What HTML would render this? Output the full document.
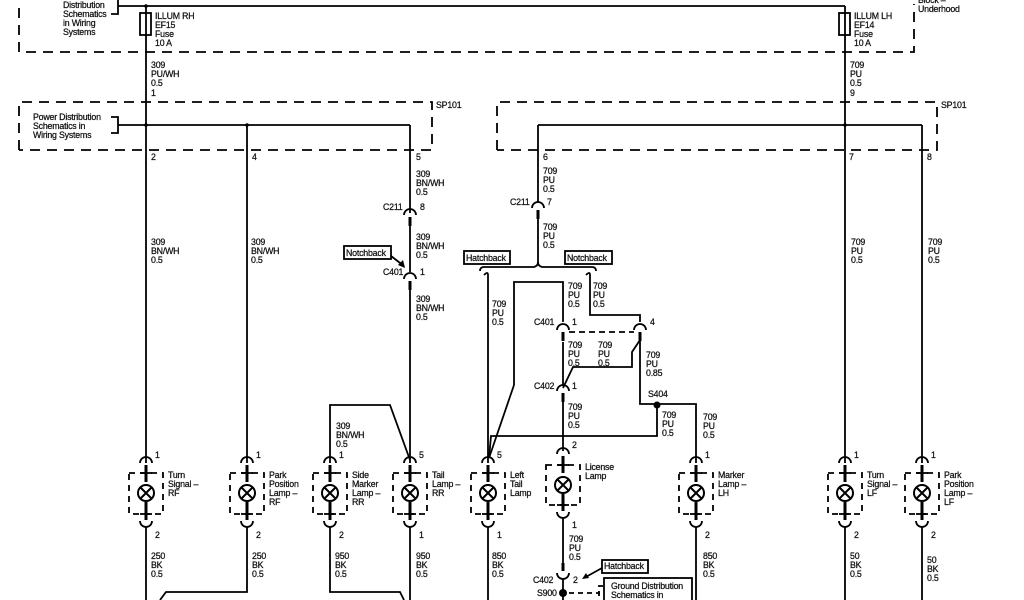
<!DOCTYPE html>
<html><head><meta charset="utf-8"><style>
html,body{margin:0;padding:0;background:#fff;}
svg{display:block;}
text{font-family:"Liberation Sans",sans-serif;font-size:8.8px;fill:#111;stroke:#111;stroke-width:0.25;letter-spacing:-0.2px;}
</style></head><body>
<svg width="1024" height="600" viewBox="0 0 1024 600" xmlns="http://www.w3.org/2000/svg">
<defs>
<g id="lamp">
 <path d="M-6,463 a6,6 0 0 1 12,0" fill="none" stroke="#000" stroke-width="1.8"/>
 <line x1="0" y1="465" x2="0" y2="482" stroke="#000" stroke-width="3"/>
 <line x1="-6" y1="473" x2="6" y2="473" stroke="#000" stroke-width="1.8"/>
 <rect x="-17" y="473" width="34" height="41" fill="none" stroke="#000" stroke-width="1.8" stroke-dasharray="6,5"/>
 <circle cx="0" cy="493" r="8" fill="#fff" stroke="#000" stroke-width="2"/>
 <path d="M-5.5,487.5 L5.5,498.5 M5.5,487.5 L-5.5,498.5" stroke="#000" stroke-width="2"/>
 <line x1="0" y1="502" x2="0" y2="520" stroke="#000" stroke-width="3"/>
 <line x1="-6" y1="514" x2="6" y2="514" stroke="#000" stroke-width="1.8"/>
 <path d="M-6,521 a6,6 0 0 0 12,0" fill="none" stroke="#000" stroke-width="1.8"/>
</g>
<g id="conn">
 <path d="M-6,0 a6,6 0 0 1 12,0" fill="none" stroke="#000" stroke-width="1.8"/>
 <line x1="0" y1="2" x2="0" y2="11" stroke="#000" stroke-width="3"/>
</g>
</defs>
<g fill="none" stroke="#000" stroke-width="1.8">
 <path d="M19,8 V52 H914 V4" stroke-dasharray="10,7"/>
 <path d="M19,150 V102 H432 V150 H19" stroke-dasharray="10,7"/>
 <path d="M497,150 V102 H937 V150 H497" stroke-dasharray="10,7"/>
 <path d="M111,14 H118 V0 M118,6 H845"/>
 <rect x="140" y="13" width="11" height="22"/>
 <rect x="839" y="13" width="11" height="22"/>
 <path d="M111,117 H118 V133 H111 M118,125 H410"/>
 <path d="M538,125 H922"/>
 <line x1="146" y1="6" x2="146" y2="463"/>
 <line x1="146" y1="527" x2="146" y2="600"/>
 <line x1="247" y1="125" x2="247" y2="463"/>
 <path d="M247,527 V592 H166 L160,600"/>
 <path d="M410,125 V213"/>
 <path d="M410,224 V272"/>
 <path d="M410,283 V463"/>
 <path d="M330,463 V405 H390 L410,460"/>
 <path d="M330,527 V592 H400 L404,600"/>
 <path d="M410,527 V600"/>
 <path d="M538,125 V202"/>
 <path d="M538,213 V262"/>
 <path d="M538,262 q0,4 -4,5 h-50 q-4,0 -4,4"/>
 <path d="M538,262 q0,4 4,5 h50 q4,0 4,4"/>
 <path d="M484,275 q4,-4 4,0 V463"/>
 <path d="M586,275 q4,-4 4,0 V315 H640 V322"/>
 <path d="M514,385 V282 H563 V322"/>
 <path d="M514,385 L489,458"/>
 <path d="M563,342 V386"/>
 <path d="M640,340 L632,352 V367 H573 L563,388"/>
 <path d="M640,340 V404 H696 V463"/>
 <path d="M657,404 V436 H491 L489,458"/>
 <path d="M563,397 V451"/>
 <path d="M569,332 H634" stroke-dasharray="6,4"/>
 <path d="M488,527 V600"/>
 <path d="M696,527 V600"/>
 <path d="M563,518 V566"/>
 <path d="M563,578 V600"/>
 <path d="M569,593 H600 M603,586 H599 V600" stroke-dasharray="5,4"/>
 <rect x="604" y="578" width="88" height="30"/>
 <line x1="845" y1="6" x2="845" y2="463"/>
 <line x1="845" y1="527" x2="845" y2="600"/>
 <line x1="922" y1="125" x2="922" y2="463"/>
 <line x1="922" y1="527" x2="922" y2="600"/>
 <rect x="344" y="246" width="47" height="13"/>
 <rect x="464" y="251" width="46" height="13"/>
 <rect x="565" y="251" width="47" height="13"/>
 <rect x="602" y="560" width="46" height="13"/>
 <path d="M391,256 L404,266"/>
 <path d="M602,568 L584,578"/>
</g>
<polygon points="405,268 398,265 403,260" fill="#000"/>
<polygon points="582,579 586,573 589,578" fill="#000"/>
<circle cx="657" cy="405" r="3.5" fill="#000"/>
<circle cx="563" cy="593" r="4" fill="#000"/>
<circle cx="146" cy="125" r="1.8" fill="#000"/>
<circle cx="247" cy="125" r="1.8" fill="#000"/>
<circle cx="845" cy="125" r="1.8" fill="#000"/>
<circle cx="146" cy="6" r="1.8" fill="#000"/>
<use href="#conn" x="410" y="215"/>
<use href="#conn" x="410" y="279"/>
<use href="#conn" x="538" y="208"/>
<use href="#conn" x="563" y="330"/>
<use href="#conn" x="640" y="330"/>
<use href="#conn" x="563" y="391"/>
<path d="M557,573 a6,6 0 0 0 12,0" fill="none" stroke="#000" stroke-width="1.8"/>
<line x1="563" y1="563" x2="563" y2="571" stroke="#000" stroke-width="3"/>
<use href="#lamp" x="146"/>
<use href="#lamp" x="247"/>
<use href="#lamp" x="330"/>
<use href="#lamp" x="410"/>
<use href="#lamp" x="488"/>
<use href="#lamp" x="696"/>
<use href="#lamp" x="845"/>
<use href="#lamp" x="922"/>
<g transform="translate(0,-9)">
 <path d="M557,463 a6,6 0 0 1 12,0" fill="none" stroke="#000" stroke-width="1.8"/>
 <line x1="563" y1="465" x2="563" y2="482" stroke="#000" stroke-width="3"/>
 <line x1="557" y1="474" x2="569" y2="474" stroke="#000" stroke-width="1.8"/>
 <rect x="546" y="474" width="34" height="40" fill="none" stroke="#000" stroke-width="1.8" stroke-dasharray="6,5"/>
 <circle cx="563" cy="494" r="8" fill="#fff" stroke="#000" stroke-width="2"/>
 <path d="M557.5,488.5 L568.5,499.5 M568.5,488.5 L557.5,499.5" stroke="#000" stroke-width="2"/>
 <line x1="563" y1="503" x2="563" y2="520" stroke="#000" stroke-width="3"/>
 <line x1="557" y1="514" x2="569" y2="514" stroke="#000" stroke-width="1.8"/>
 <path d="M557,521 a6,6 0 0 0 12,0" fill="none" stroke="#000" stroke-width="1.8"/>
</g>
<text x="63" y="8">Distribution</text><text x="63" y="17">Schematics</text><text x="63" y="26">in Wiring</text><text x="63" y="35">Systems</text>
<text x="155" y="19">ILLUM RH</text><text x="155" y="28">EF15</text><text x="155" y="37">Fuse</text><text x="155" y="46">10 A</text>
<text x="854" y="19">ILLUM LH</text><text x="854" y="28">EF14</text><text x="854" y="37">Fuse</text><text x="854" y="46">10 A</text>
<text x="918" y="3">Block –</text><text x="918" y="12">Underhood</text>
<text x="151" y="68">309</text><text x="151" y="77">PU/WH</text><text x="151" y="86">0.5</text><text x="151" y="96">1</text>
<text x="850" y="68">709</text><text x="850" y="77">PU</text><text x="850" y="86">0.5</text><text x="850" y="96">9</text>
<text x="436" y="108">SP101</text><text x="941" y="108">SP101</text>
<text x="33" y="120">Power Distribution</text><text x="33" y="129">Schematics in</text><text x="33" y="138">Wiring Systems</text>
<text x="151" y="160">2</text><text x="252" y="160">4</text><text x="416" y="160">5</text>
<text x="543" y="160">6</text><text x="849" y="160">7</text><text x="927" y="160">8</text>
<text x="416" y="177">309</text><text x="416" y="186">BN/WH</text><text x="416" y="195">0.5</text>
<text x="383" y="210">C211</text><text x="420" y="210">8</text>
<text x="416" y="240">309</text><text x="416" y="249">BN/WH</text><text x="416" y="258">0.5</text>
<text x="346" y="256">Notchback</text>
<text x="383" y="275">C401</text><text x="420" y="275">1</text>
<text x="416" y="302">309</text><text x="416" y="311">BN/WH</text><text x="416" y="320">0.5</text>
<text x="151" y="245">309</text><text x="151" y="254">BN/WH</text><text x="151" y="263">0.5</text>
<text x="251" y="245">309</text><text x="251" y="254">BN/WH</text><text x="251" y="263">0.5</text>
<text x="543" y="174">709</text><text x="543" y="183">PU</text><text x="543" y="192">0.5</text>
<text x="510" y="205">C211</text><text x="547" y="205">7</text>
<text x="543" y="230">709</text><text x="543" y="239">PU</text><text x="543" y="248">0.5</text>
<text x="466" y="261">Hatchback</text><text x="567" y="261">Notchback</text>
<text x="568" y="289">709</text><text x="568" y="298">PU</text><text x="568" y="307">0.5</text>
<text x="593" y="289">709</text><text x="593" y="298">PU</text><text x="593" y="307">0.5</text>
<text x="492" y="307">709</text><text x="492" y="316">PU</text><text x="492" y="325">0.5</text>
<text x="534" y="325">C401</text><text x="572" y="325">1</text><text x="650" y="325">4</text>
<text x="568" y="348">709</text><text x="568" y="357">PU</text><text x="568" y="366">0.5</text>
<text x="598" y="348">709</text><text x="598" y="357">PU</text><text x="598" y="366">0.5</text>
<text x="646" y="358">709</text><text x="646" y="367">PU</text><text x="646" y="376">0.85</text>
<text x="534" y="389">C402</text><text x="572" y="389">1</text>
<text x="648" y="397">S404</text>
<text x="568" y="410">709</text><text x="568" y="419">PU</text><text x="568" y="428">0.5</text>
<text x="662" y="418">709</text><text x="662" y="427">PU</text><text x="662" y="436">0.5</text>
<text x="703" y="420">709</text><text x="703" y="429">PU</text><text x="703" y="438">0.5</text>
<text x="336" y="429">309</text><text x="336" y="438">BN/WH</text><text x="336" y="447">0.5</text>
<text x="851" y="245">709</text><text x="851" y="254">PU</text><text x="851" y="263">0.5</text>
<text x="928" y="245">709</text><text x="928" y="254">PU</text><text x="928" y="263">0.5</text>
<text x="155" y="458">1</text><text x="256" y="458">1</text><text x="339" y="458">1</text><text x="419" y="458">5</text><text x="497" y="458">5</text><text x="572" y="448">2</text><text x="705" y="458">1</text><text x="854" y="458">1</text><text x="931" y="458">1</text>
<text x="155" y="538">2</text><text x="256" y="538">2</text><text x="339" y="538">2</text><text x="419" y="538">1</text><text x="497" y="538">1</text><text x="572" y="528">1</text><text x="705" y="538">2</text><text x="854" y="538">2</text><text x="931" y="538">2</text>
<text x="168" y="478">Turn</text><text x="168" y="487">Signal –</text><text x="168" y="496">RF</text>
<text x="269" y="478">Park</text><text x="269" y="487">Position</text><text x="269" y="496">Lamp –</text><text x="269" y="505">RF</text>
<text x="352" y="478">Side</text><text x="352" y="487">Marker</text><text x="352" y="496">Lamp –</text><text x="352" y="505">RR</text>
<text x="432" y="478">Tail</text><text x="432" y="487">Lamp –</text><text x="432" y="496">RR</text>
<text x="510" y="478">Left</text><text x="510" y="487">Tail</text><text x="510" y="496">Lamp</text>
<text x="585" y="470">License</text><text x="585" y="479">Lamp</text>
<text x="718" y="478">Marker</text><text x="718" y="487">Lamp –</text><text x="718" y="496">LH</text>
<text x="867" y="478">Turn</text><text x="867" y="487">Signal –</text><text x="867" y="496">LF</text>
<text x="944" y="478">Park</text><text x="944" y="487">Position</text><text x="944" y="496">Lamp –</text><text x="944" y="505">LF</text>
<text x="151" y="559">250</text><text x="151" y="568">BK</text><text x="151" y="577">0.5</text>
<text x="252" y="559">250</text><text x="252" y="568">BK</text><text x="252" y="577">0.5</text>
<text x="335" y="559">950</text><text x="335" y="568">BK</text><text x="335" y="577">0.5</text>
<text x="416" y="559">950</text><text x="416" y="568">BK</text><text x="416" y="577">0.5</text>
<text x="492" y="559">850</text><text x="492" y="568">BK</text><text x="492" y="577">0.5</text>
<text x="703" y="559">850</text><text x="703" y="568">BK</text><text x="703" y="577">0.5</text>
<text x="850" y="559">50</text><text x="850" y="568">BK</text><text x="850" y="577">0.5</text>
<text x="927" y="563">50</text><text x="927" y="572">BK</text><text x="927" y="581">0.5</text>
<text x="569" y="542">709</text><text x="569" y="551">PU</text><text x="569" y="560">0.5</text>
<text x="604" y="569">Hatchback</text>
<text x="533" y="583">C402</text><text x="573" y="583">2</text>
<text x="537" y="596">S900</text>
<text x="611" y="589">Ground Distribution</text><text x="611" y="598">Schematics in</text>
</svg>
</body></html>
